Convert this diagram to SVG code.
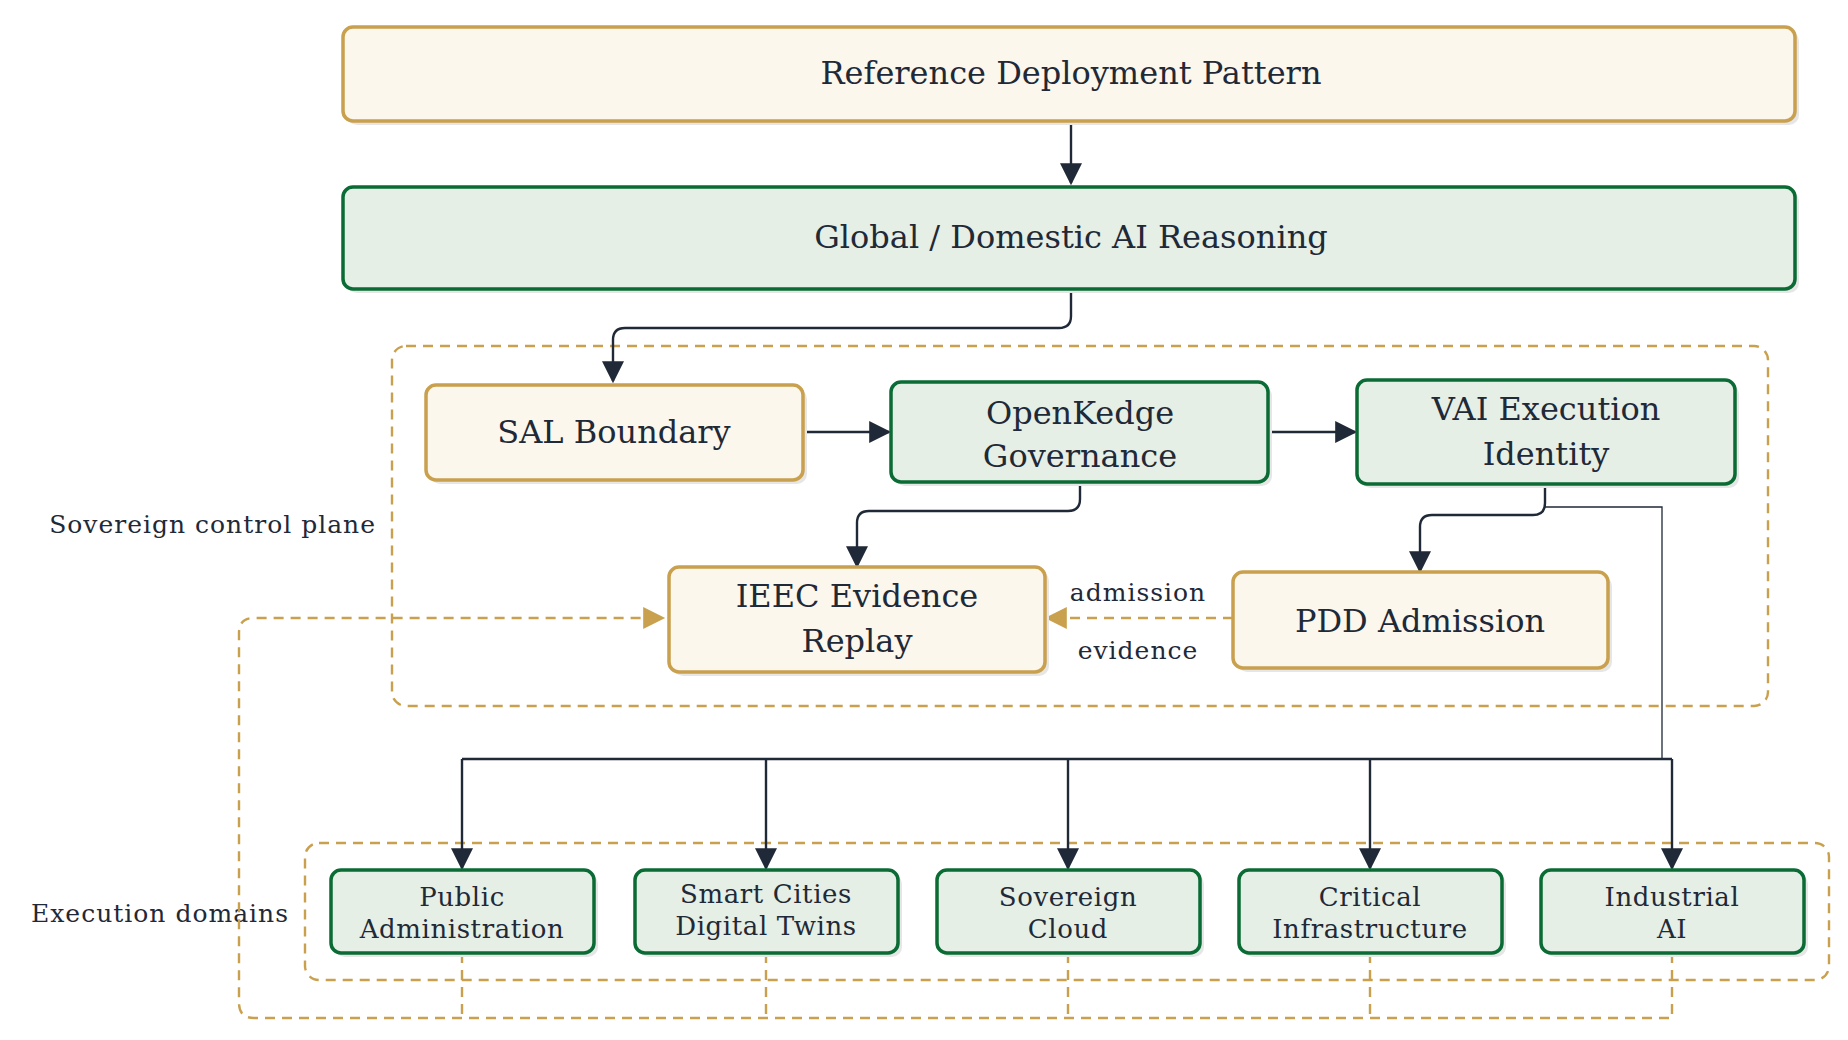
<svg xmlns="http://www.w3.org/2000/svg" width="1848" height="1040" viewBox="0 0 1848 1040">
<style>
text{font-family:"DejaVu Serif","Liberation Serif",serif;fill:#1f2937;text-anchor:middle}
.g{fill:#fbf7ec;stroke:#c9a04e;stroke-width:3.5}
.n{fill:#e5efe6;stroke:#0b6b35;stroke-width:3.5}
.sh{fill:#e6e6e6}
.c{fill:none;stroke:#1f2937;stroke-width:2.4}
.d{fill:none;stroke:#c9a04e;stroke-width:2.4;stroke-dasharray:10,7}
.big{font-size:32px}
.sm{font-size:26px;letter-spacing:0.6px}
.lb{font-size:25px;letter-spacing:1px}
</style>
<defs>
<marker id="ag" viewBox="0 0 10 10" refX="9" refY="5" markerWidth="26" markerHeight="22" orient="auto" markerUnits="userSpaceOnUse"><path d="M0,0L10,5L0,10z" fill="#c9a04e"/></marker>
<marker id="ab" viewBox="0 0 10 10" refX="9" refY="5" markerWidth="26" markerHeight="22" orient="auto" markerUnits="userSpaceOnUse"><path d="M0,0L10,5L0,10z" fill="#1f2937"/></marker>
</defs>
<g id="containers">
<rect x="392" y="346" width="1376" height="360" rx="14" class="d"/>
<text x="376" y="533" class="lb" style="text-anchor:end">Sovereign control plane</text>
<rect x="305" y="843" width="1524" height="137" rx="14" class="d"/>
<text x="289" y="922" class="lb" style="text-anchor:end">Execution domains</text>
</g>
<g id="connectors">
<path d="M1071,121V183" class="c" marker-end="url(#ab)"/>
<path d="M1071,289V316Q1071,328 1059,328H625Q613,328 613,340V381" class="c" marker-end="url(#ab)"/>
<path d="M803,432H889" class="c" marker-end="url(#ab)"/>
<path d="M1268,432H1355" class="c" marker-end="url(#ab)"/>
<path d="M1080,482V499Q1080,511 1068,511H869Q857,511 857,523V566" class="c" marker-end="url(#ab)"/>
<path d="M1545,484V503Q1545,515 1533,515H1432Q1420,515 1420,527V571" class="c" marker-end="url(#ab)"/>
<path d="M1233,618H1047" class="d" marker-end="url(#ag)"/>
<text x="1138" y="601" class="lb">admission</text>
<text x="1138" y="659" class="lb">evidence</text>
<path d="M1545,507H1662V759" fill="none" stroke="#1f2937" stroke-width="1.3"/>
<path d="M462,759H1672" class="c"/>
<path d="M462,759V868" class="c" marker-end="url(#ab)"/>
<path d="M766,759V868" class="c" marker-end="url(#ab)"/>
<path d="M1068,759V868" class="c" marker-end="url(#ab)"/>
<path d="M1370,759V868" class="c" marker-end="url(#ab)"/>
<path d="M1672,759V868" class="c" marker-end="url(#ab)"/>
<path d="M462,953V1018M766,953V1018M1068,953V1018M1370,953V1018M1672,953V1018H254Q239,1018 239,1003V633Q239,618 254,618H663" class="d" marker-end="url(#ag)"/>
</g>
<g id="n-ref"><rect x="347" y="31" width="1452" height="94" rx="10" class="sh"/><rect x="343" y="27" width="1452" height="94" rx="10" class="g"/><text x="1071" y="84" class="big">Reference Deployment Pattern</text></g>
<g id="n-global"><rect x="347" y="191" width="1452" height="102" rx="10" class="sh"/><rect x="343" y="187" width="1452" height="102" rx="10" class="n"/><text x="1071" y="248" class="big">Global / Domestic AI Reasoning</text></g>
<g id="n-sal"><rect x="430" y="389" width="377" height="95" rx="10" class="sh"/><rect x="426" y="385" width="377" height="95" rx="10" class="g"/><text x="614" y="443" class="big">SAL Boundary</text></g>
<g id="n-ok"><rect x="895" y="386" width="377" height="100" rx="10" class="sh"/><rect x="891" y="382" width="377" height="100" rx="10" class="n"/><text x="1080" y="424" class="big">OpenKedge</text><text x="1080" y="467" class="big">Governance</text></g>
<g id="n-vai"><rect x="1361" y="384" width="378" height="104" rx="10" class="sh"/><rect x="1357" y="380" width="378" height="104" rx="10" class="n"/><text x="1546" y="420" class="big">VAI Execution</text><text x="1546" y="465" class="big">Identity</text></g>
<g id="n-ieec"><rect x="673" y="571" width="376" height="105" rx="10" class="sh"/><rect x="669" y="567" width="376" height="105" rx="10" class="g"/><text x="857" y="607" class="big">IEEC Evidence</text><text x="857" y="652" class="big">Replay</text></g>
<g id="n-pdd"><rect x="1237" y="576" width="375" height="96" rx="10" class="sh"/><rect x="1233" y="572" width="375" height="96" rx="10" class="g"/><text x="1420" y="632" class="big">PDD Admission</text></g>
<g id="n-pa"><rect x="335" y="874" width="263" height="83" rx="10" class="sh"/><rect x="331" y="870" width="263" height="83" rx="10" class="n"/><text x="462" y="906" class="sm">Public</text><text x="462" y="938" class="sm">Administration</text></g>
<g id="n-sc"><rect x="639" y="874" width="263" height="83" rx="10" class="sh"/><rect x="635" y="870" width="263" height="83" rx="10" class="n"/><text x="766" y="903" class="sm">Smart Cities</text><text x="766" y="935" class="sm">Digital Twins</text></g>
<g id="n-cl"><rect x="941" y="874" width="263" height="83" rx="10" class="sh"/><rect x="937" y="870" width="263" height="83" rx="10" class="n"/><text x="1068" y="906" class="sm">Sovereign</text><text x="1068" y="938" class="sm">Cloud</text></g>
<g id="n-ci"><rect x="1243" y="874" width="263" height="83" rx="10" class="sh"/><rect x="1239" y="870" width="263" height="83" rx="10" class="n"/><text x="1370" y="906" class="sm">Critical</text><text x="1370" y="938" class="sm">Infrastructure</text></g>
<g id="n-ia"><rect x="1545" y="874" width="263" height="83" rx="10" class="sh"/><rect x="1541" y="870" width="263" height="83" rx="10" class="n"/><text x="1672" y="906" class="sm">Industrial</text><text x="1672" y="938" class="sm">AI</text></g>
</svg>
